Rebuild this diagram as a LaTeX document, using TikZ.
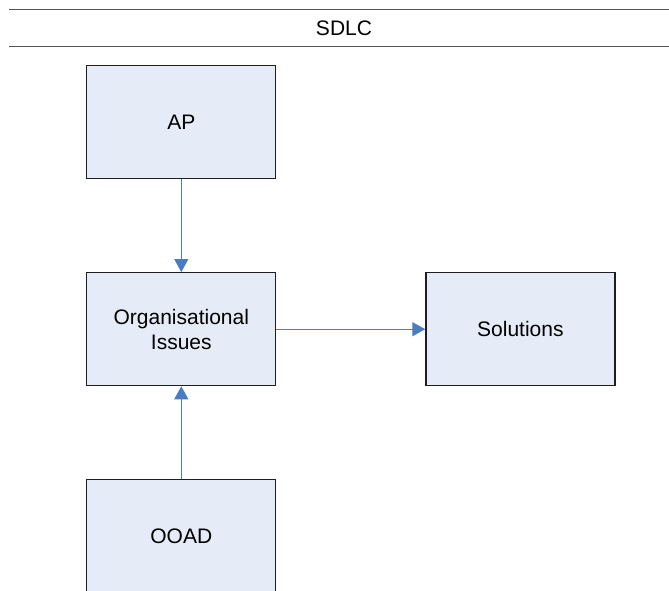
\documentclass[tikz,border=0pt]{standalone}
\usepackage{fontspec}
\setmainfont{Liberation Sans}
\usetikzlibrary{arrows.meta}
\definecolor{boxfill}{HTML}{E6ECF7}
\definecolor{boxdraw}{HTML}{1E1E1E}
\definecolor{arrowblue}{HTML}{4A7CC5}
\definecolor{rulegray}{HTML}{555555}
\begin{document}
\begin{tikzpicture}[x=1pt,y=1pt,
  blockbox/.style={draw=boxdraw, line width=1.2pt, fill=boxfill, minimum width=189pt, minimum height=113pt, inner sep=0pt, align=center, font=\fontsize{21}{25}\selectfont},
  flow/.style={draw=arrowblue, line width=1pt, -{Triangle[length=13pt,width=14pt]}},
  rulel/.style={draw=rulegray, line width=1.6pt}]
\clip (0,0) rectangle (669,-591);
\fill[white] (0,0) rectangle (669,-591);
\coordinate (r1a) at (9,-9.5);
\coordinate (r1b) at (669,-9.5);
\coordinate (r2a) at (9,-46.5);
\coordinate (r2b) at (669,-46.5);
\draw[rulel] (r1a) -- (r1b);
\draw[rulel] (r2a) -- (r2b);
\node[font=\fontsize{21}{25}\selectfont] (title) at (344,-28) {SDLC};
\node[blockbox] (ap) at (181.3,-121.8) {AP};
\node[blockbox] (oi) at (181.3,-329.2) {Organisational\\Issues};
\node[blockbox] (sol) at (520.4,-329.2) {Solutions};
\node[blockbox] (ooad) at (181.3,-535.8) {OOAD};
\draw[flow] (ap) -- (oi);
\draw[flow] (ooad) -- (oi);
\draw[flow] (oi) -- (sol);
\end{tikzpicture}
\end{document}
